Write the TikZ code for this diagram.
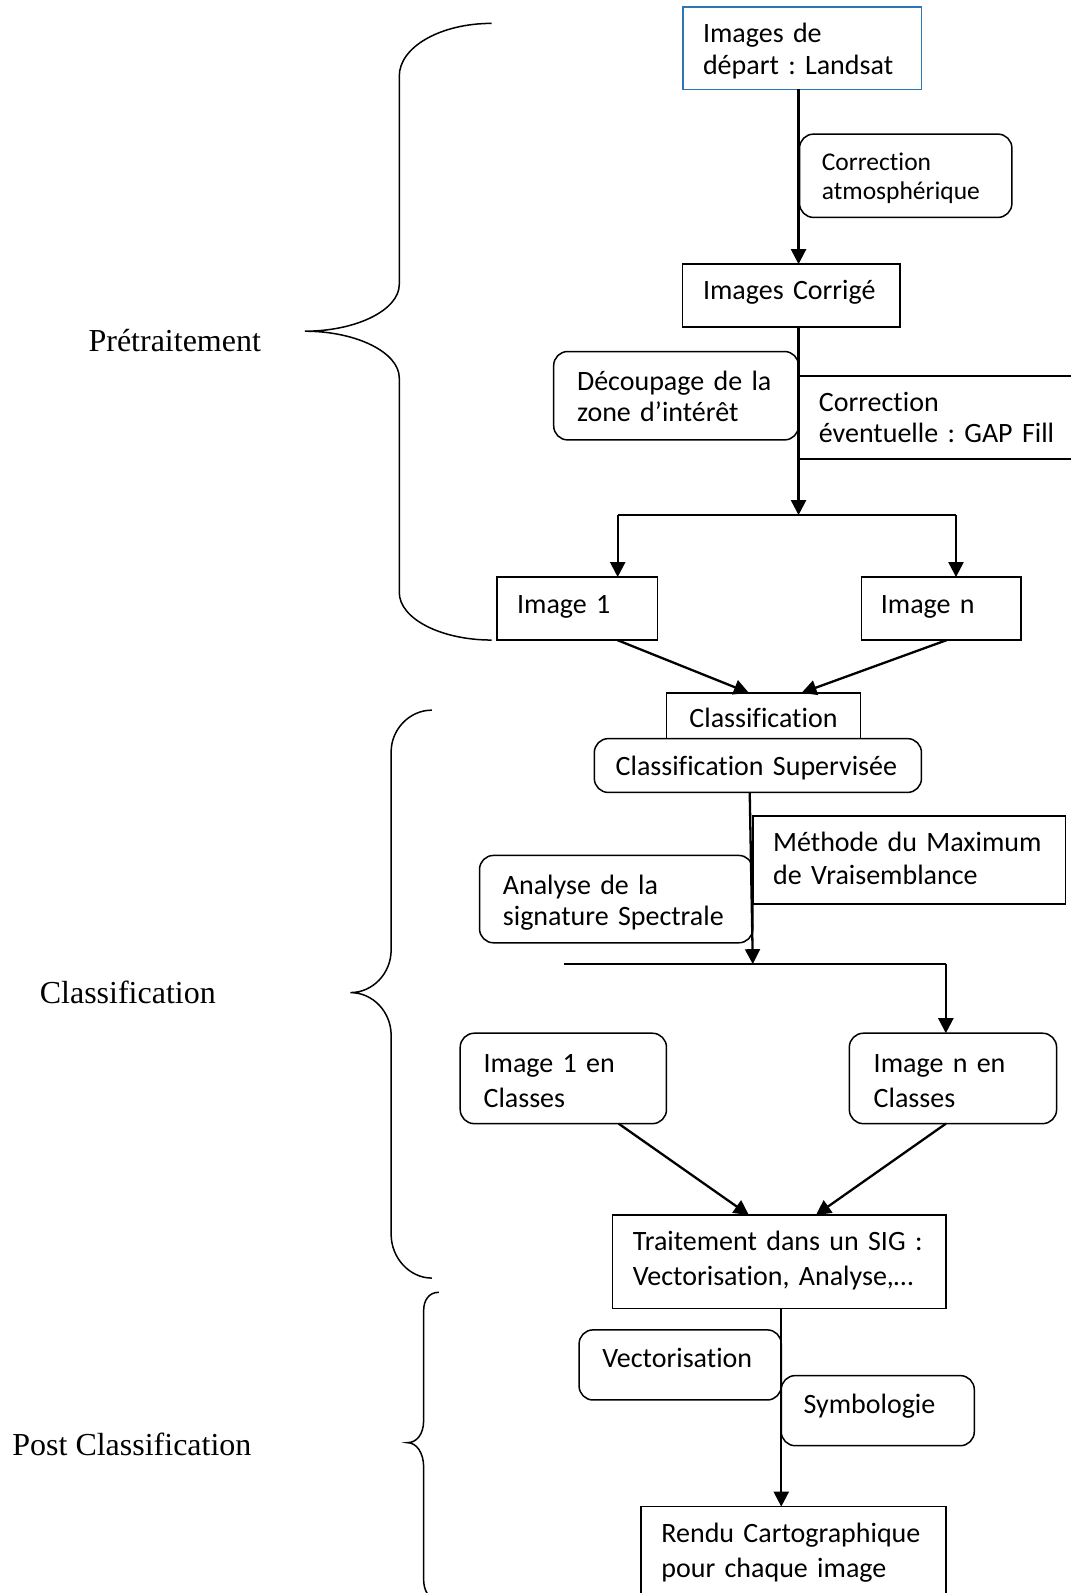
\documentclass[tikz,border=0pt]{standalone}
\usepackage{fontspec}
\setmainfont{Carlito}[Ligatures=NoCommon]
\newfontfamily\tnr{Liberation Serif}
\usetikzlibrary{arrows.meta,calc}
\definecolor{startblue}{RGB}{46,117,182}
\frenchspacing
\def\un{1.01613pt}
% name, style, x1, y1, x2, y2, left pad, first baseline, text
\newcommand\flowbox[9]{%
 \pgfmathsetlengthmacro\bxW{(#5-(#3))*\un}%
 \pgfmathsetlengthmacro\bxH{(#6-(#4))*\un}%
 \pgfmathsetlengthmacro\bxT{(#5-(#3)-2*(#7))*\un}%
 \pgfmathsetlengthmacro\bxP{(#7)*\un}%
 \pgfmathsetlengthmacro\bxA{(#8-(#4))*\un}%
 \pgfmathsetlengthmacro\bxD{(#6-(#8))*\un}%
 \node[anchor=north west, outer sep=0pt, inner ysep=0pt, inner xsep=\bxP,
   minimum width=\bxW, minimum height=\bxH, text width=\bxT,
   text height=\bxA, text depth=\bxD, align=left, #2] (#1) at (#3,#4) {#9};}
\begin{document}
\begin{tikzpicture}[x=1.01613pt,y=-1.01613pt,
  sq/.style={draw=black,line width=1.5pt},
  rnd/.style={draw=black,line width=1.5pt,rounded corners=14pt},
  blu/.style={draw=startblue,line width=1.8pt},
  fz/.style={font=\fontsize{28}{#1}\selectfont\frenchspacing},
  ln/.style={draw=black,line width=2.3pt},
  arr/.style={ln,-{Triangle[length=15pt,width=15pt]}},
  brace/.style={draw=black,line width=1.5pt},
  lbl/.style={anchor=base west,inner sep=0pt,font=\tnr\fontsize{32}{36}\selectfont}]
\useasboundingbox (0,0) rectangle (1054,1568);
\clip (0,0) rectangle (1054,1568);

% boxes
\flowbox{start}{blu,fz=31.5}{672}{7}{907}{88}{20}{42}{Images de\\départ : Landsat}
\flowbox{atm}{rnd,font=\fontsize{25.5}{29}\selectfont}{787}{132}{996}{214}{22}{168}{Correction\\atmosphérique}
\flowbox{corr}{sq,fz=31.5}{672}{260}{886}{322}{20}{295}{Images Corrigé}
\flowbox{decoup}{rnd,fz=31.5}{545}{346}{786}{433}{23}{384}{Découpage de la\\zone d’intérêt}
\flowbox{gap}{sq,fz=31.5}{786}{370}{1075}{452}{20}{405}{Correction\\éventuelle : GAP Fill}
\flowbox{img1}{sq,fz=31.5}{489}{568}{647}{630}{20}{604}{Image 1}
\flowbox{imgn}{sq,fz=31.5}{848}{568}{1005}{630}{19}{604}{Image n}
\flowbox{classif}{sq,fz=31.5,align=center}{656}{682}{847}{727}{10}{716}{Classification}
\flowbox{sup}{rnd,fz=31.5}{585}{727}{907}{780}{21}{763}{\mbox{Classification Supervisée}}
\flowbox{meth}{sq,fz=33.5}{741}{803}{1049}{890}{20}{838}{Méthode du Maximum\\de Vraisemblance}
\flowbox{anal}{rnd,fz=31.5}{472}{842}{741}{928}{23}{880}{Analyse de la\\\mbox{signature Spectrale}}
\flowbox{cl1}{rnd,fz=34.5}{453}{1017}{656}{1106}{23}{1056}{Image 1 en\\Classes}
\flowbox{cln}{rnd,fz=34.5}{836}{1017}{1040}{1106}{24}{1056}{Image n en\\Classes}
\flowbox{sig}{sq,fz=34.5}{603}{1196}{931}{1288}{20}{1231}{\mbox{Traitement dans un SIG :}\\Vectorisation, Analyse,…}
\flowbox{vect}{rnd,fz=31.5}{570}{1309}{769}{1378}{23}{1346}{Vectorisation}
\flowbox{symb}{rnd,fz=31.5}{769}{1354}{959}{1423}{22}{1391}{Symbologie}
\flowbox{rendu}{sq,fz=35.5}{631}{1483}{931}{1575}{20}{1518}{\mbox{Rendu Cartographique}\\pour chaque image}

% connectors
\coordinate (tr) at (786,0);
\coordinate (sp) at (786,507);
\coordinate (spL) at (608,507);
\coordinate (spR) at (941,507);
\draw[arr] (start.south -| tr) -- (corr.north -| tr);
\draw[arr] (corr.south -| tr) -- (sp);
\draw[ln] (spL) -- (spR);
\draw[arr] (spL) -- (spL |- img1.north);
\draw[arr] (spR) -- (spR |- imgn.north);
\draw[arr] ($(img1.south west)!0.75!(img1.south east)$) -- ($(classif.north west)!0.425!(classif.north east)$);
\draw[arr] ($(imgn.south west)!0.535!(imgn.south east)$) -- ($(classif.north west)!0.696!(classif.north east)$);

\coordinate (c2) at (741,949);
\coordinate (c2L) at (555,949);
\coordinate (c2R) at (931,949);
\draw[arr] ($(sup.south west)!0.475!(sup.south east)$) -- (c2);
\draw[ln] (c2L) -- (c2R);
\draw[arr] (c2R) -- (c2R |- cln.north);
\draw[arr] ($(cl1.south west)!0.768!(cl1.south east)$) -- ($(sig.north west)!0.409!(sig.north east)$);
\draw[arr] ($(cln.south west)!0.466!(cln.south east)$) -- ($(sig.north west)!0.61!(sig.north east)$);
\draw[arr] (sig.south -| vect.east) -- (rendu.north -| vect.east);

% braces
\draw[brace] (484,23) .. controls (434,23) and (393,46) .. (393,75) -- (393,280)
  .. controls (393,305) and (351,326) .. (300,326)
  .. controls (351,326) and (393,347) .. (393,372) -- (393,583)
  .. controls (393,609) and (434,630) .. (484,630);
\draw[brace] (425,699) .. controls (403,699) and (385,718) .. (385,740) -- (385,935)
  .. controls (385,958) and (367,977) .. (345,977)
  .. controls (367,977) and (385,996) .. (385,1019) -- (385,1215)
  .. controls (385,1238) and (403,1258) .. (425,1258);
\draw[brace] (432,1272) .. controls (422,1272) and (417,1280) .. (417,1290) -- (417,1398)
  .. controls (417,1412) and (410,1420) .. (401,1420)
  .. controls (410,1420) and (417,1430) .. (417,1444) -- (417,1555)
  .. controls (417,1565) and (422,1575) .. (432,1576);

% labels
\node[lbl] (lpre) at (87,346) {Prétraitement};
\node[lbl] (lcla) at (39,988) {Classification};
\node[lbl] (lpost) at (12,1433) {Post Classification};
\end{tikzpicture}
\end{document}
